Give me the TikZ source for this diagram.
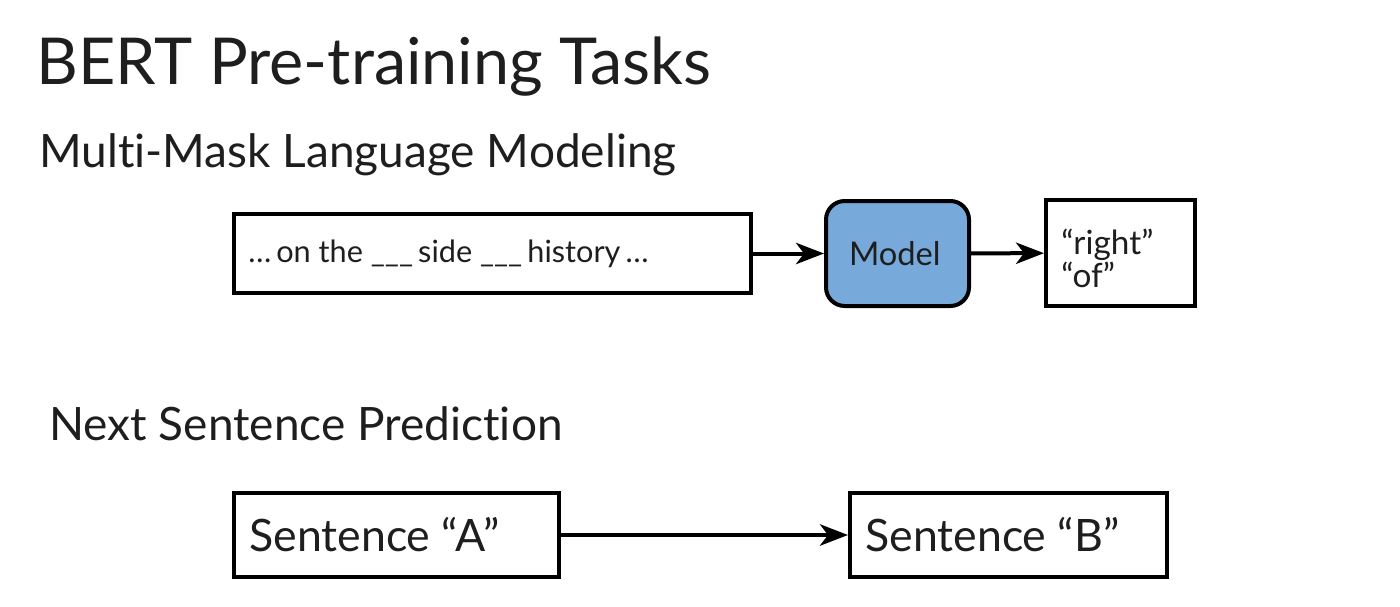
\documentclass[tikz,border=0pt]{standalone}
\usepackage{fontspec}
\setmainfont{Lato}[Ligatures=NoCommon]
\usetikzlibrary{arrows.meta}
\definecolor{modelblue}{HTML}{77A9DB}
\definecolor{ink}{HTML}{1E1E1E}
\begin{document}
\begin{tikzpicture}[x=0.75pt,y=-0.75pt,
  box/.style={draw=black,line width=3pt,minimum height=#1*0.75pt,inner sep=0pt,anchor=west},
  label/.style={anchor=west,inner sep=0pt,text=ink,align=left},
  conn/.style={line width=3pt,-{Stealth[length=21pt,width=16pt,inset=6pt]}},
  heading/.style={anchor=base west,inner sep=0pt,text=ink}]
\useasboundingbox (0,0) rectangle (1400,607);
\fill[white] (0,0) rectangle (1400,607);

\node[heading,font=\fontsize{48.5}{50}\selectfont] (title) at (36,84) {BERT Pre-training Tasks};
\node[heading,font=\fontsize{34.5}{36}\selectfont] (mlm) at (39,167) {Multi-Mask Language Modeling};
\node[heading,font=\fontsize{34.5}{36}\selectfont] (nsp) at (49,440) {Next Sentence Prediction};

% masked language modelling pipeline
\node[box=79,minimum width=517*0.75pt] (input) at (232,253.5) {};
\node[label,font=\fontsize{23}{24}\selectfont] (inputtext) at (248,253.5)
  {…\,on the \_\_\_\,side \_\_\_\,history\,…};
\node[box=105,minimum width=143*0.75pt,rounded corners=14pt,fill=modelblue,text=ink,font=\fontsize{24.5}{26}\selectfont] (model) at (824,253.5) {\hspace*{-4pt}Model};
\node[box=106,minimum width=149*0.75pt] (output) at (1044,253) {};
\node[label,font=\fontsize{25}{21}\selectfont] (outtext) at (1061,258)
  {“right”\\“of”};
\draw[conn] (input) -- (model);
\draw[conn] (model) -- (output);

% next sentence prediction
\node[box=84,minimum width=325*0.75pt] (sa) at (232,535) {};
\node[label,font=\fontsize{33.5}{36}\selectfont] (satext) at (249,535) {Sentence “A”};
\node[box=84,minimum width=317*0.75pt] (sb) at (848,535) {};
\node[label,font=\fontsize{33.5}{36}\selectfont] (sbtext) at (865,535) {Sentence “B”};
\draw[conn] (sa) -- (sb);
\end{tikzpicture}
\end{document}
